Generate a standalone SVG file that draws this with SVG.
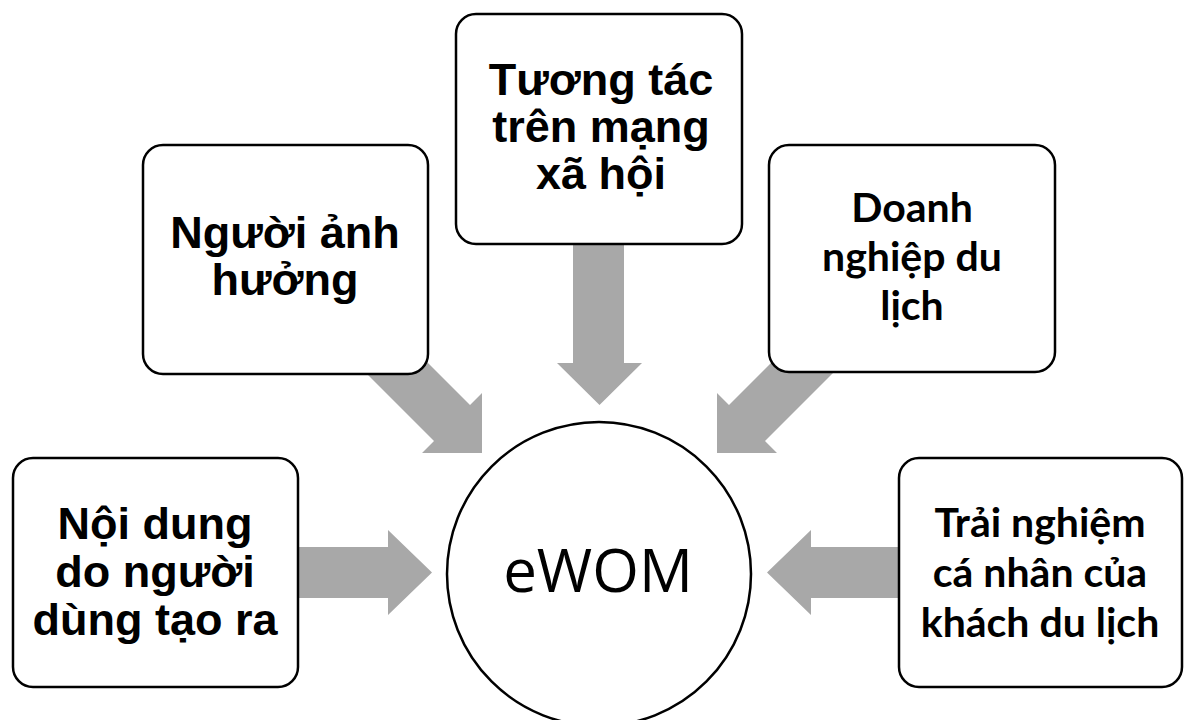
<svg xmlns="http://www.w3.org/2000/svg" width="1184" height="720" viewBox="0 0 1184 720">
<style>
.box{fill:#fff;stroke:#000;stroke-width:2.5}
.arr{fill:#a8a8a8}
.ta{font-family:"Liberation Sans",Arial,sans-serif;font-weight:bold;font-size:45px;fill:#000;text-anchor:middle}
.tc{font-family:Lato,"Open Sans",sans-serif;font-weight:bold;font-size:41px;fill:#000;text-anchor:middle}
.tw{font-family:"Open Sans",sans-serif;font-size:60px;fill:#000;text-anchor:middle}
</style>
<rect width="1184" height="720" fill="#fff"/>
<g id="connectors">
<polygon class="arr" points="290,547 388,547 388,530 432,572.5 388,615 388,598 290,598"/>
<polygon class="arr" points="363,370 399,334 470,405 482,393 482,453 422,453 434,441"/>
<polygon class="arr" points="573,230 624,230 624,363 642,363 599.5,405 557,363 573,363"/>
<polygon class="arr" points="836,370 800,334 729,405 717,393 717,453 777,453 765,441"/>
<polygon class="arr" points="909,547 811,547 811,530 767,572.5 811,615 811,598 909,598"/>
</g>
<g id="center">
<circle cx="599" cy="574" r="152" fill="#fff" stroke="#000" stroke-width="2.5"/>
<text class="tw" x="598" y="592">eWOM</text>
</g>
<g id="n1">
<rect class="box" x="13" y="458" width="285" height="229" rx="20"/>
<text class="ta" x="155" y="539">Nội dung</text>
<text class="ta" x="155" y="587">do người</text>
<text class="ta" x="155" y="635">dùng tạo ra</text>
</g>
<g id="n2">
<rect class="box" x="143" y="145" width="285" height="229" rx="20"/>
<text class="ta" x="285" y="248">Người ảnh</text>
<text class="ta" x="285" y="295">hưởng</text>
</g>
<g id="n3">
<rect class="box" x="456" y="14" width="286" height="230" rx="20"/>
<text class="ta" x="601" y="95">Tương tác</text>
<text class="ta" x="601" y="142">trên mạng</text>
<text class="ta" x="601" y="189">xã hội</text>
</g>
<g id="n4">
<rect class="box" x="769" y="145" width="286" height="227" rx="20"/>
<text class="tc" x="912" y="222">Doanh</text>
<text class="tc" x="912" y="271">nghiệp du</text>
<text class="tc" x="912" y="320">lịch</text>
</g>
<g id="n5">
<rect class="box" x="899" y="458" width="283" height="229" rx="20"/>
<text class="tc" x="1040" y="537">Trải nghiệm</text>
<text class="tc" x="1040" y="587">cá nhân của</text>
<text class="tc" x="1040" y="637">khách du lịch</text>
</g>
</svg>
